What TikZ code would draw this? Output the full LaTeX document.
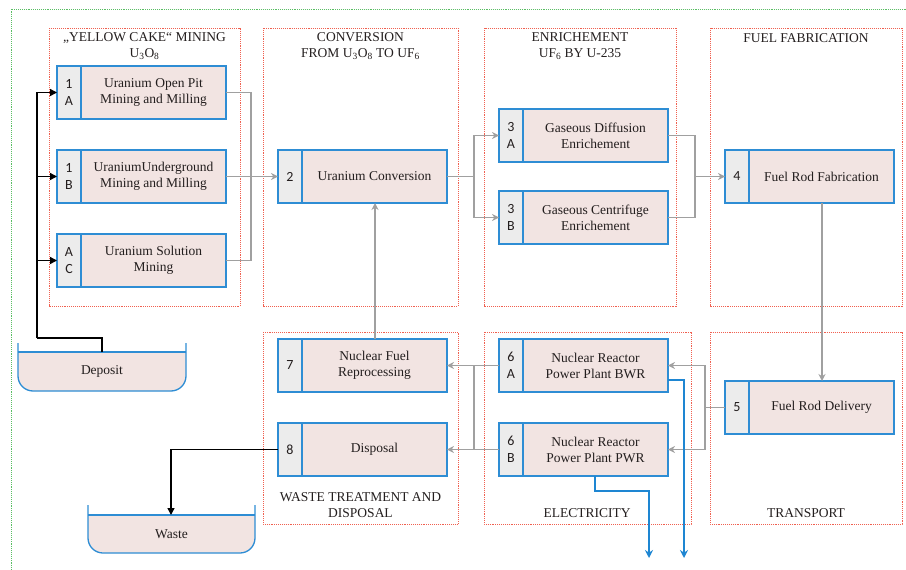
\documentclass[tikz,border=0pt]{standalone}
\usepackage{fontspec}
\setmainfont{Liberation Serif}
\newfontfamily\numfont{Carlito}
\usetikzlibrary{arrows.meta,calc}
\definecolor{boxblue}{RGB}{46,141,212}
\definecolor{boxpink}{RGB}{242,228,226}
\definecolor{cellgray}{RGB}{236,236,236}
\definecolor{grpred}{RGB}{240,96,80}
\definecolor{grngreen}{RGB}{90,190,100}
\definecolor{conngray}{RGB}{160,160,160}
\definecolor{flowblue}{RGB}{30,134,210}
\definecolor{txt}{RGB}{35,30,30}
\newcommand\pbox[5]{%
  \node[pboxstyle] (#1) at (#2,#3) {};
  \fill[cellgray] (#1.north west) rectangle ([xshift=24pt]#1.south west);
  \draw[boxblue,line width=1.3pt] ([xshift=24pt]#1.north west) -- ([xshift=24pt]#1.south west);
  \node[numtxt] at ([xshift=12pt]#1.west) {#4};
  \node[boxtxt] at ([xshift=12pt]#1.center) {#5};
  \draw[boxblue,line width=1.3pt] (#1.north west) rectangle (#1.south east);
}
\newcommand\tankshape[3]{% name, rim height, label
  \fill[boxpink] (#1.north west) -- ([yshift=15pt]#1.south west) arc[start angle=180,end angle=270,radius=15pt] -- ([xshift=-15pt]#1.south east) arc[start angle=270,end angle=360,radius=15pt] -- (#1.north east) -- cycle;
  \draw[boxblue,line width=1.3pt] ([yshift=#2]#1.north west) -- ([yshift=15pt]#1.south west) arc[start angle=180,end angle=270,radius=15pt] -- ([xshift=-15pt]#1.south east) arc[start angle=270,end angle=360,radius=15pt] -- ([yshift=#2]#1.north east);
  \draw[boxblue,line width=1.3pt] (#1.north west) -- (#1.north east);
  \node[boxtxt] at (#1.center) {#3};
}
\tikzset{
  pboxstyle/.style={rectangle,fill=boxpink,minimum width=169pt,minimum height=53pt,inner sep=0pt,outer sep=0pt},
  numtxt/.style={font=\numfont\fontsize{14}{16.5}\selectfont,align=center,text=txt,inner sep=0pt},
  boxtxt/.style={font=\fontsize{13.5}{16}\selectfont,align=center,text=txt,inner sep=0pt},
  grptitle/.style={font=\fontsize{13.5}{16}\selectfont,align=center,text=txt,inner sep=0pt},
  grp/.style={draw=grpred,densely dotted,line width=0.9pt},
  gconn/.style={draw=conngray,line width=1.4pt},
  garrow/.style={gconn,-{Stealth[length=7pt,width=7pt]}},
  bconn/.style={draw=black,line width=1.4pt},
  barrow/.style={bconn,-{Triangle[length=7pt,width=7pt]}},
  flow/.style={draw=flowblue,line width=2pt,-{Stealth[length=8pt,width=8pt]}},
  tank/.style={rectangle,minimum width=168pt,inner sep=0pt,outer sep=0pt},
}
\begin{document}
\begin{tikzpicture}[x=1pt,y=-1pt]
\useasboundingbox (0,0) rectangle (906,570);
% outer green frame
\draw[grngreen,densely dotted,line width=0.9pt] (11,570) -- (11,9) -- (906,9);
% groups
\draw[grp] (49,28) rectangle (240,306);
\draw[grp] (263,28) rectangle (458,306);
\draw[grp] (484,28) rectangle (676,306);
\draw[grp] (710,28) rectangle (902,306);
\draw[grp] (263,332) rectangle (458,524);
\draw[grp] (484,332) rectangle (691,524);
\draw[grp] (710,332) rectangle (902,524);
\node[grptitle] (t1) at (144.5,46) {„YELLOW CAKE“ MINING\\U\textsubscript{3}O\textsubscript{8}};
\node[grptitle] (t2) at (360.5,46) {CONVERSION\\FROM U\textsubscript{3}O\textsubscript{8} TO UF\textsubscript{6}};
\node[grptitle] (t3) at (580,46) {ENRICHEMENT\\UF\textsubscript{6} BY U-235};
\node[grptitle] (t4) at (806,38) {FUEL FABRICATION};
\node[grptitle] (t5) at (360.5,505) {WASTE TREATMENT AND\\DISPOSAL};
\node[grptitle] (t6) at (587,513) {ELECTRICITY};
\node[grptitle] (t7) at (806,513) {TRANSPORT};
% tanks
\node[tank,minimum height=39pt] (deposit) at (102,371.5) {};
\tankshape{deposit}{9pt}{Deposit}
\node[tank,minimum height=38pt,minimum width=167pt] (waste) at (171.5,534) {};
\tankshape{waste}{10pt}{Waste}
% process boxes
\pbox{n1a}{141.5}{92.5}{1\\A}{Uranium Open Pit\\Mining and Milling}
\pbox{n1b}{141.5}{176.5}{1\\B}{UraniumUnderground\\Mining and Milling}
\pbox{nac}{141.5}{260.5}{A\\C}{Uranium Solution\\Mining}
\pbox{n2}{362.5}{176.5}{2}{Uranium Conversion}
\pbox{n3a}{583.5}{135.5}{3\\A}{Gaseous Diffusion\\Enrichement}
\pbox{n3b}{583.5}{217.5}{3\\B}{Gaseous Centrifuge\\Enrichement}
\pbox{n4}{809.5}{176.5}{4}{Fuel Rod Fabrication}
\pbox{n5}{809.5}{407.5}{5}{Fuel Rod Delivery}
\pbox{n6a}{583.5}{365.5}{6\\A}{Nuclear Reactor\\Power Plant BWR}
\pbox{n6b}{583.5}{449.5}{6\\B}{Nuclear Reactor\\Power Plant PWR}
\pbox{n7}{362.5}{365.5}{7}{Nuclear Fuel\\Reprocessing}
\pbox{n8}{362.5}{449.5}{8}{Disposal}
% coordinates
\coordinate (bus) at (37,338);
\coordinate (m1) at (251,92.5);
\coordinate (s2) at (474,176.5);
\coordinate (m3) at (695,135.5);
\coordinate (s5) at (705,407.5);
\coordinate (m6) at (474,365.5);
\coordinate (w8) at (171,449.5);
% black connectors
\draw[bconn] (deposit.north) |- (bus);
\draw[barrow] (bus) |- (n1a.west);
\draw[barrow] (bus |- n1b.west) -- (n1b.west);
\draw[barrow] (bus |- nac.west) -- (nac.west);
\draw[barrow] (n8.west) -- (w8) -- (w8 |- waste.north);
% gray connectors
\draw[gconn] (n1a.east) -- (m1) |- (nac.east);
\draw[garrow] (n1b.east) -- (n2.west);
\draw[gconn] (n2.east) -- (s2);
\draw[garrow] (s2) |- (n3a.west);
\draw[garrow] (s2) |- (n3b.west);
\draw[gconn] (n3a.east) -- (m3) |- (n3b.east);
\draw[garrow] (m3 |- n4.west) -- (n4.west);
\draw[garrow] ([xshift=12.5pt]n4.south) -- ([xshift=12.5pt]n5.north);
\draw[gconn] (n5.west) -- (s5);
\draw[garrow] (s5) |- (n6a.east);
\draw[garrow] (s5) |- (n6b.east);
\draw[garrow] (n6a.west) -- (n7.east);
\draw[garrow] (n6b.west) -- (n8.east);
\draw[gconn] (m6) -- (m6 |- n8.east);
\draw[garrow] ([xshift=12.5pt]n7.north) -- ([xshift=12.5pt]n2.south);
% blue flows
\coordinate (e1) at (684,558);
\coordinate (e2) at (649,558);
\draw[flow] ([yshift=-14.5pt]n6a.east) -| (e1);
\draw[flow] ([xshift=11.5pt]n6b.south) -- ++(0,15) -| (e2);
\end{tikzpicture}
\end{document}
